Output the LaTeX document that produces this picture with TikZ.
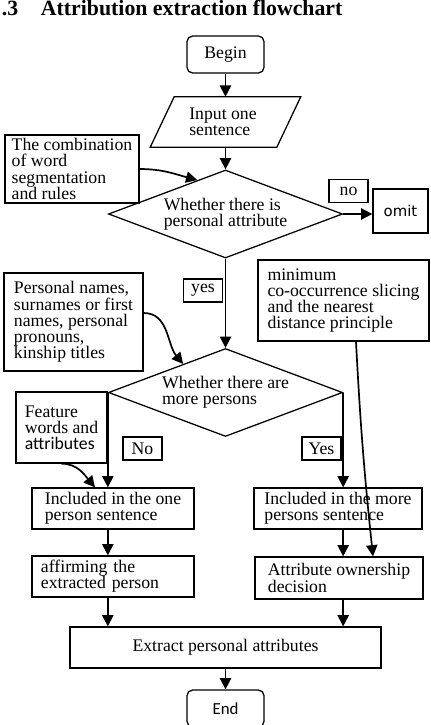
\documentclass[tikz,border=0pt]{standalone}
\usepackage{fontspec}
\setmainfont{Liberation Serif}
\newfontfamily\calfont{Carlito}
\newfontfamily\dejafont{DejaVu Sans}
\usetikzlibrary{arrows.meta, positioning, shapes.geometric, calc}

\begin{document}
\begin{tikzpicture}[x=0.025cm, y=-0.025cm, >={Triangle[length=8pt,width=8pt]},
        font=\fontsize{12.6}{11.5}\selectfont,
        box/.style={rectangle, draw, line width=0.9pt, align=left, inner sep=2pt},
        endbox/.style={box, rounded corners=4pt, minimum width=1.925cm, minimum height=0.925cm},
        decision/.style={diamond, draw, line width=0.9pt, align=left, inner sep=0pt, aspect=2.65,
                         minimum width=5.85cm, minimum height=2.2cm},
        tag/.style={box, inner sep=1pt, minimum width=0.975cm, minimum height=0.57cm},
        link/.style={->, line width=1.2pt}]
      \useasboundingbox (0,0) rectangle (431,725);
      \clip (0,0) rectangle (431,725);

      \node[anchor=base west, font=\fontsize{15.5}{18}\selectfont\bfseries] (num) at (-3,15) {.3};
      \node[anchor=base west, font=\fontsize{15.5}{18}\selectfont\bfseries] (title) at (36,15) {Attribution extraction flowchart};

      \node[endbox] (begin) at (225.5,54.5) {Begin};
      \node[minimum width=3.15cm, minimum height=1.25cm, align=left, inner sep=0pt] (input) at (223,122) {Input one\\sentence};
      \draw[line width=0.9pt] ($(input.north west)+(14.5,0)$) -- ($(input.north east)+(14.5,0)$)
          -- ($(input.south east)+(-9.5,0)$) -- ($(input.south west)+(-9.5,0)$) -- cycle;
      \node[decision] (ask1) at (225.5,214) {Whether there is\\personal attribute};
      \node[decision] (ask2) at (225.5,392.5) {Whether there are\\more persons};

      \node[box, minimum width=3.35cm, minimum height=1.7cm] (rules) at (72,169) {The combination\\of word\\segmentation\\and rules};
      \node[tag] (no1) at (348.5,191) {no};
      \node[box, minimum width=1.375cm, minimum height=1.1cm, font=\dejafont\fontsize{10.6}{12}\selectfont] (omit) at (400.5,211) {omit};
      \node[tag] (yes1) at (203,290.5) {yes};
      \node[box, minimum width=4.275cm, minimum height=2.025cm] (slicing) at (343.5,300.5) {minimum\\co-occurrence slicing\\and the nearest\\distance principle};
      \node[box, minimum width=3.475cm, minimum height=2.45cm] (names) at (73.5,322) {Personal names,\\surnames or first\\names, personal\\pronouns,\\kinship titles};
      \node[box, minimum width=2.275cm, minimum height=1.775cm] (feature) at (61.5,427.5) {Feature\\words and\\{\calfont attributes}};
      \node[tag] (no2) at (142.5,448.5) {No};
      \node[tag] (yes2) at (321.5,448.5) {Yes};

      \node[box, minimum width=4.05cm, minimum height=1.025cm] (one) at (113,508.5) {Included in the one\\person sentence};
      \node[box, minimum width=4.2cm, minimum height=1.025cm] (more) at (338,508.5) {Included in the more\\persons sentence};
      \node[box, minimum width=4.05cm, minimum height=1.025cm, text width=3.6cm] (affirm) at (113,576.5) {affirming the\\extracted person};
      \node[box, minimum width=4.2cm, minimum height=1.05cm] (owner) at (339,578) {Attribute ownership\\decision};
      \node[box, minimum width=7.775cm, minimum height=1.025cm] (extract) at (225.5,647.5) {Extract personal attributes};
      \node[endbox, font=\calfont\fontsize{12}{14}\selectfont] (end) at (225.5,708.5) {End};

      \draw[link] (begin) -- (begin |- input.north);
      \draw[link] (begin |- input.south) -- (ask1);
      \draw[link] (ask1.east) -- (ask1.east -| omit.west);
      \draw[link] (ask1) -- (ask2);
      \draw[link] (ask2.west) -- (ask2.west |- one.north);
      \draw[link] (ask2.east) -- (ask2.east |- more.north);
      \draw[link] (one.south -| ask2.west) -- (affirm.north -| ask2.west);
      \draw[link] (more.south -| ask2.east) -- (owner.north -| ask2.east);
      \draw[link] (affirm.south -| ask2.west) -- (extract.north -| ask2.west);
      \draw[link] (owner.south -| ask2.east) -- (extract.north -| ask2.east);
      \draw[link] (extract) -- (end);
      \draw[link] (rules.east) to[out=0, in=165] ($(ask1.north)!0.24!(ask1.west)$);
      \draw[link] ($(names.east)+(0,-9)$) to[out=0, in=130] ($(ask2.north)!0.36!(ask2.west)$);
      \draw[link] (feature.south) to[out=0, in=130] ($(one.north)+(-18,0)$);
      \draw[link] ($(slicing.south)+(12.5,0)$) to[out=-87, in=96] ($(owner.north)+(34,0)$);
    \end{tikzpicture}
\end{document}
